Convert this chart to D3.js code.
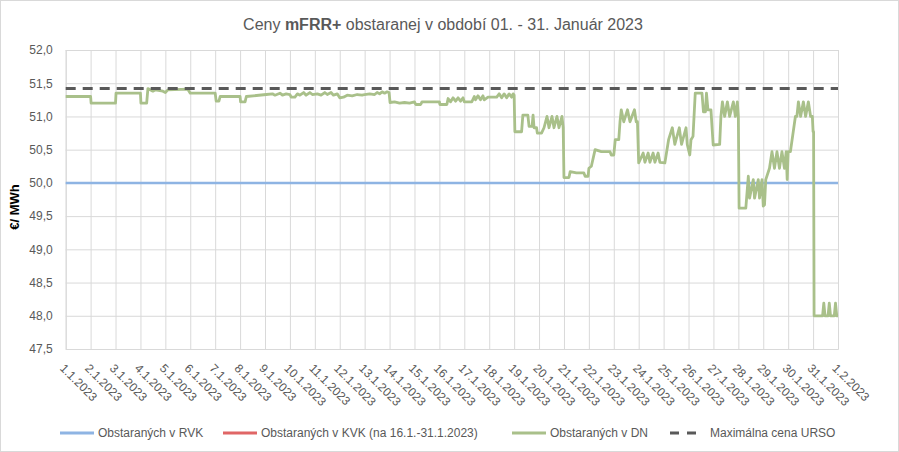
<!DOCTYPE html>
<html>
  <head>
    <meta charset="utf-8">
    <script src="https://cdn.jsdelivr.net/npm/d3@7"></script>
    <style>
      body { margin: 0; background: #fff; }
      text { font-family: "Liberation Sans", Arial, sans-serif; fill: #595959; }
    </style>
  </head>
  <body>
    <svg id="chart" width="899" height="452"></svg>
    <script>

      // x tick labels (one per day)
      var dayLabels = ["1.1.2023", "2.1.2023", "3.1.2023", "4.1.2023", "5.1.2023", "6.1.2023",
        "7.1.2023", "8.1.2023", "9.1.2023", "10.1.2023", "11.1.2023", "12.1.2023", "13.1.2023",
        "14.1.2023", "15.1.2023", "16.1.2023", "17.1.2023", "18.1.2023", "19.1.2023", "20.1.2023",
        "21.1.2023", "22.1.2023", "23.1.2023", "24.1.2023", "25.1.2023", "26.1.2023", "27.1.2023",
        "28.1.2023", "29.1.2023", "30.1.2023", "31.1.2023", "1.2.2023"];

      var yTicks = [47.5, 48, 48.5, 49, 49.5, 50, 50.5, 51, 51.5, 52];

      // RVK price and max URSO price (flat)
      var rvkDays = [0, 31];
      var rvkValues = [50.0, 50.0];
      var maxDays = [0, 31];
      var maxValues = [51.42, 51.42];

      // DN price: [day since 1.1. 00:00, €/MWh]
      var dnPoints = [
        [0, 51.30], [1.0, 51.30], [1.02, 51.20], [2.0, 51.20], [2.02, 51.35], [3.0, 51.35],
        [3.02, 51.20], [3.25, 51.20], [3.3, 51.42], [3.5, 51.38], [3.6, 51.40], [3.9, 51.38],
        [4.0, 51.36], [4.1, 51.40], [4.9, 51.41], [5.0, 51.35],
        [6.0, 51.35], [6.04, 51.23], [6.15, 51.23], [6.2, 51.30], [7.0, 51.30], [7.02, 51.22],
        [7.2, 51.22], [7.25, 51.30],
        [8.05, 51.33], [8.3, 51.34], [8.4, 51.32], [8.6, 51.35], [8.7, 51.32], [8.85, 51.34],
        [9.0, 51.33], [9.05, 51.29], [9.2, 51.29], [9.3, 51.34], [9.4, 51.32], [9.55, 51.36],
        [9.65, 51.32], [9.8, 51.36], [9.9, 51.33],
        [10.1, 51.34], [10.25, 51.32], [10.4, 51.36], [10.5, 51.33], [10.65, 51.36], [10.75, 51.32],
        [10.9, 51.34], [11.0, 51.28], [11.15, 51.29], [11.3, 51.32], [11.5, 51.31], [11.7, 51.33],
        [11.9, 51.32],
        [12.0, 51.33], [12.2, 51.34], [12.4, 51.33], [12.5, 51.36], [12.6, 51.34], [12.7, 51.37],
        [12.8, 51.35], [12.9, 51.37], [12.98, 51.36],
        [13.02, 51.21], [13.2, 51.22], [13.4, 51.20], [13.6, 51.21], [13.8, 51.20], [14.0, 51.22],
        [14.05, 51.18], [14.25, 51.18], [14.3, 51.22], [14.6, 51.22],
        [15.0, 51.22], [15.02, 51.18], [15.3, 51.18], [15.35, 51.27], [15.45, 51.22], [15.55, 51.28],
        [15.65, 51.23], [15.75, 51.28], [15.85, 51.23], [15.95, 51.28],
        [16.0, 51.22], [16.3, 51.22], [16.4, 51.30], [16.45, 51.25], [16.55, 51.31], [16.65, 51.25],
        [16.75, 51.31], [16.8, 51.25], [16.95, 51.29],
        [17.3, 51.29], [17.4, 51.34], [17.5, 51.28], [17.6, 51.34], [17.7, 51.28], [17.8, 51.34],
        [17.9, 51.29], [17.96, 51.34], [18.0, 51.32],
        [18.03, 50.77], [18.3, 50.77], [18.35, 51.02], [18.55, 51.02], [18.6, 50.85], [18.72, 50.85],
        [18.76, 51.02], [18.8, 50.83], [18.9, 50.83], [18.93, 50.75], [19.1, 50.75], [19.2, 50.83],
        [19.32, 51.00], [19.4, 50.83], [19.52, 51.00], [19.6, 50.83], [19.72, 51.00], [19.8, 50.83],
        [19.92, 51.00], [19.97, 50.83],
        [20.0, 50.08], [20.2, 50.08], [20.25, 50.17], [20.5, 50.15], [20.8, 50.15], [20.85, 50.10],
        [20.97, 50.10],
        [21.0, 50.22], [21.1, 50.25], [21.25, 50.50], [21.5, 50.47], [21.85, 50.47], [21.9, 50.42],
        [22.0, 50.42],
        [22.06, 50.65], [22.2, 50.65], [22.25, 50.92], [22.3, 51.10], [22.4, 50.92], [22.55, 51.10],
        [22.65, 50.92], [22.83, 51.10], [22.9, 50.92], [22.95, 50.92],
        [23.0, 50.30], [23.18, 50.45], [23.25, 50.31], [23.38, 50.45], [23.45, 50.31], [23.58, 50.45],
        [23.65, 50.31], [23.78, 50.45], [23.85, 50.31], [24.05, 50.30],
        [24.2, 50.65], [24.35, 50.83], [24.45, 50.58], [24.63, 50.83], [24.72, 50.58], [24.9, 50.83],
        [24.95, 50.58], [25.05, 50.42], [25.1, 50.65], [25.18, 50.70],
        [25.27, 51.35], [25.54, 51.35], [25.6, 51.07], [25.68, 51.07], [25.72, 51.35], [25.78, 51.10],
        [25.9, 51.10],
        [25.99, 50.57], [26.25, 50.58], [26.3, 51.00], [26.36, 51.22], [26.45, 51.00], [26.56, 51.22],
        [26.65, 51.00], [26.8, 51.22], [26.88, 51.00], [26.96, 51.22], [27.0, 51.00],
        [27.03, 49.62], [27.3, 49.62], [27.4, 50.10], [27.45, 49.77], [27.6, 50.05], [27.65, 49.77],
        [27.8, 50.05], [27.85, 49.77], [27.95, 50.05], [28.0, 49.65], [28.05, 49.67],
        [28.1, 50.05], [28.25, 50.22], [28.35, 50.47], [28.45, 50.22], [28.55, 50.47], [28.65, 50.22],
        [28.75, 50.47], [28.85, 50.22], [28.92, 50.47], [28.96, 50.05], [29.0, 50.47], [29.09, 50.47],
        [29.29, 51.00], [29.35, 51.00], [29.41, 51.22], [29.5, 51.00], [29.61, 51.22], [29.7, 51.00],
        [29.81, 51.22], [29.9, 51.00], [29.97, 51.00], [30.0, 50.77], [30.02, 50.77],
        [30.04, 48.00], [30.38, 48.00], [30.43, 48.19], [30.48, 48.00], [30.6, 48.00], [30.65, 48.19],
        [30.7, 48.00], [30.85, 48.00], [30.9, 48.19], [30.95, 48.00], [31.0, 48.00]
      ];

      var legendNames = ["Obstaraných v RVK", "Obstaraných v KVK (na 16.1.-31.1.2023)",
        "Obstaraných v DN", "Maximálna cena URSO"];
      var legendColors = ["#8eb4e3", "#e06666", "#a9c08a", "#595959"];

      var svg = d3.select("#chart");
      var plotLeft = 65.7, plotRight = 838, plotTop = 50, plotBottom = 349;

      // chart border
      svg.append("rect")
        .attr("x", 0.5).attr("y", 0.5)
        .attr("width", 898).attr("height", 451)
        .attr("fill", "#fff").attr("stroke", "#d9d9d9");

      var x = d3.scaleLinear().domain([0, 31]).range([plotLeft, plotRight]);
      var y = d3.scaleLinear().domain([47.5, 52]).range([plotBottom, plotTop]);

      // Title
      var title = svg.append("text")
        .attr("x", 443).attr("y", 30)
        .attr("text-anchor", "middle")
        .style("font-size", "16px");
      title.append("tspan").text("Ceny ");
      title.append("tspan").style("font-weight", "bold").text("mFRR+");
      title.append("tspan").text(" obstaranej v období 01. - 31. Január 2023");

      // Y axis with grid
      var yAxis = svg.append("g")
        .attr("transform", "translate(" + plotLeft + ",0)")
        .call(d3.axisLeft(y)
          .tickValues(yTicks)
          .tickSize(-(plotRight - plotLeft))
          .tickPadding(13)
          .tickFormat(function(d) { return d3.format(".1f")(d).replace(".", ","); }));
      yAxis.select(".domain").remove();
      yAxis.selectAll("line").attr("stroke", "#d9d9d9");
      yAxis.selectAll("text").style("font-size", "12px").attr("fill", "#595959");

      // X axis with grid, rotated labels
      var xAxis = svg.append("g")
        .attr("transform", "translate(0," + plotBottom + ")")
        .call(d3.axisBottom(x)
          .tickValues(d3.range(dayLabels.length))
          .tickSize(-(plotBottom - plotTop))
          .tickFormat(function(d) { return dayLabels[d]; }));
      xAxis.select(".domain").attr("stroke", "#d9d9d9");
      xAxis.selectAll("line").attr("stroke", "#d9d9d9");
      xAxis.selectAll("text")
        .style("font-size", "12px")
        .attr("fill", "#595959")
        .attr("x", 0).attr("y", 0).attr("dy", "0.7em")
        .attr("transform", "translate(-1,14) rotate(45)")
        .style("text-anchor", "start");

      // Y axis title
      svg.append("text")
        .attr("transform", "translate(19,207) rotate(-90)")
        .attr("text-anchor", "middle")
        .style("font-size", "13px")
        .style("font-weight", "bold")
        .style("fill", "#000")
        .text("€/ MWh");

      var line = d3.line()
        .x(function(d) { return x(d[0]); })
        .y(function(d) { return y(d[1]); });

      // RVK line
      svg.append("path")
        .datum(d3.zip(rvkDays, rvkValues))
        .attr("d", line)
        .attr("fill", "none")
        .attr("stroke", legendColors[0])
        .attr("stroke-width", 2.5);

      // DN line
      svg.append("path")
        .datum(dnPoints)
        .attr("d", line)
        .attr("fill", "none")
        .attr("stroke", legendColors[2])
        .attr("stroke-width", 2.8)
        .attr("stroke-linejoin", "round");

      // Max price
      svg.append("path")
        .datum(d3.zip(maxDays, maxValues))
        .attr("d", line)
        .attr("fill", "none")
        .attr("stroke", legendColors[3])
        .attr("stroke-width", 3)
        .attr("stroke-dasharray", "10,7");

      // Legend
      var legendX = [60, 223, 512, 670];
      var legend = svg.selectAll(".legend")
        .data(legendNames)
        .enter()
        .append("g")
        .attr("class", "legend")
        .attr("transform", function(d, i) { return "translate(" + legendX[i] + ",433)"; });

      legend.append("line")
        .attr("x1", 0).attr("x2", function(d, i) { return i == 3 ? 28 : 34; })
        .attr("y1", 0).attr("y2", 0)
        .attr("stroke", function(d, i) { return legendColors[i]; })
        .attr("stroke-width", 3)
        .attr("stroke-dasharray", function(d, i) { return i == 3 ? "9,8" : null; });

      legend.append("text")
        .attr("x", function(d, i) { return i == 3 ? 40 : 38; })
        .attr("y", 4)
        .style("font-size", "12px")
        .text(function(d) { return d; });

    </script>
  </body>
</html>
